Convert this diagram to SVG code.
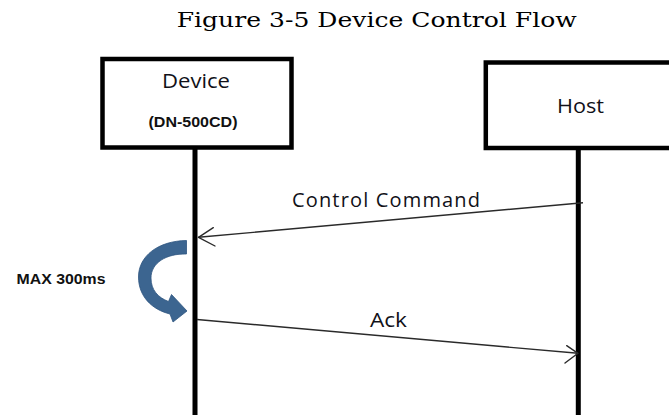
<svg xmlns="http://www.w3.org/2000/svg" width="669" height="415" viewBox="0 0 669 415">
<style>
.box{fill:#fff;stroke:#000;stroke-width:4.5}
.life{stroke:#000;stroke-width:5}
.lbl{font-family:"Open Sans","Liberation Sans",sans-serif;font-size:20px;fill:#111118}
.bold{font-family:"Liberation Sans",Arial,sans-serif;font-weight:bold;font-size:15.5px;fill:#111}
.msg{fill:none;stroke:#2a2a2a;stroke-width:1.4}
.head{fill:none;stroke:#2a2a2a;stroke-width:1.4;stroke-linecap:round;stroke-linejoin:round}
</style>
<rect width="669" height="415" fill="#fff"/>
<text x="176.7" y="27.3" font-family="'DejaVu Serif','Liberation Serif',serif" font-size="21" textLength="400" lengthAdjust="spacingAndGlyphs" fill="#000">Figure 3-5 Device Control Flow</text>
<g id="device">
<rect class="box" x="102.5" y="59" width="189" height="88.5"/>
<line class="life" x1="195" y1="149" x2="195" y2="415"/>
<text class="lbl" x="162" y="88" textLength="68" lengthAdjust="spacingAndGlyphs">Device</text>
<text class="bold" x="148.5" y="126.5" textLength="89" lengthAdjust="spacingAndGlyphs">(DN-500CD)</text>
</g>
<g id="host">
<rect class="box" x="485.8" y="62.5" width="200" height="85.5"/>
<line class="life" x1="578.3" y1="150" x2="578.3" y2="415"/>
<text class="lbl" x="557" y="113" textLength="47" lengthAdjust="spacingAndGlyphs">Host</text>
</g>
<g id="delay">
<path d="M186.5 240.5 L186.5 254 C166 253.5 151 263 151 278 C151 290 158 297.5 168.5 301.5 L171.5 294.5 L187 311 L173 322 L170 314 C151.5 309.5 138.5 296 138.5 277 C138.5 256 158 241 186.5 240.5 Z" fill="#3c6590" stroke="#2f5580" stroke-width="0.8"/>
<text class="bold" x="16.5" y="284" font-size="16" textLength="89" lengthAdjust="spacingAndGlyphs">MAX 300ms</text>
</g>
<g id="connectors">
<g id="control-command">
<line class="msg" x1="583" y1="202.7" x2="198.5" y2="237.3"/>
<polyline class="head" points="213.3,227.7 198.5,237.3 215,246"/>
<text class="lbl" x="292" y="206.7" textLength="188" lengthAdjust="spacing">Control  Command</text>
</g>
<g id="ack">
<line class="msg" x1="197" y1="319.5" x2="578" y2="353.3" stroke="#444" stroke-width="1.8"/>
<polyline class="head" points="566.7,345.7 578,353.3 565,363" stroke="#444"/>
<text class="lbl" x="370" y="326.7" textLength="37" lengthAdjust="spacingAndGlyphs">Ack</text>
</g>
</g>
</svg>
